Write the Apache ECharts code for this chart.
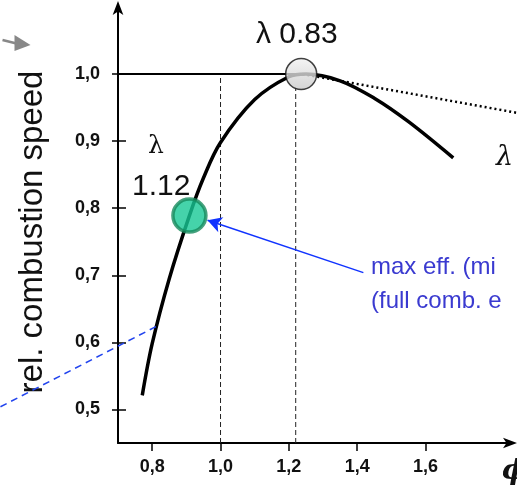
<!DOCTYPE html>
<html>
<head>
  <meta charset="utf-8"/>
  <script src="https://cdn.jsdelivr.net/npm/echarts@6/dist/echarts.min.js"></script>
  <style>html,body{margin:0;padding:0;background:#fff;}</style>
</head>
<body>
  <div id="chartmain" style="width:517px; height:487px;"></div>
  <script type="text/javascript">
    // tick values
    var xTicks = [0.8, 1.0, 1.2, 1.4, 1.6];
    var yTicks = [0.5, 0.6, 0.7, 0.8, 0.9, 1.0];
    // combustion speed curve (phi, rel. speed)
    var curvePhi = [0.771, 0.80, 0.85, 0.909, 0.95, 1.0, 1.1, 1.2, 1.25, 1.35, 1.45, 1.55, 1.681];
    var curveSpeed = [0.521, 0.598, 0.695, 0.789, 0.845, 0.898, 0.962, 0.996, 1.0, 0.99, 0.964, 0.929, 0.875];
    // guide lines
    var maxLine = [[0.7, 1.0], [1.23, 1.0]];
    var dottedLine = [[1.24, 1.0], [1.87, 0.942]];
    var dashA = [[1.0, 0.45], [1.0, 0.995]];
    var dashB = [[1.22, 0.45], [1.22, 0.98]];
    var blueDash = [[0.356, 0.504], [0.824, 0.627]];
    var blueArrow = [[1.418, 0.704], [0.962, 0.782]];
    // highlighted points
    var peakPoint = [[1.236, 1.0]];
    var effPoint = [[0.909, 0.789]];

    var curve = curvePhi.map(function (p, i) { return [p, curveSpeed[i]]; });
    var fmt = function (v) { return v.toFixed(1).replace('.', ','); };
    var tickFont = { fontFamily: 'Liberation Sans', fontSize: 18, fontWeight: 'bold', color: '#111' };

    // text annotations
    var annot = [
      { type: 'text', left: 256, top: 20, style: { text: 'λ 0.83', fontFamily: 'Liberation Sans', fontSize: 30, fill: '#111' } },
      { type: 'text', left: 148, top: 134, style: { text: 'λ', fontFamily: 'DejaVu Serif', fontSize: 25, fill: '#111' } },
      { type: 'text', left: 132, top: 172, style: { text: '1.12', fontFamily: 'Liberation Sans', fontSize: 30, fill: '#111' } },
      { type: 'text', left: 496, top: 144, style: { text: 'λ', fontFamily: 'DejaVu Serif', fontStyle: 'italic', fontSize: 27, fill: '#111' } },
      { type: 'text', left: 371, top: 255, style: { text: 'max eff. (mi', fontFamily: 'Liberation Sans', fontSize: 24, fill: '#3a3ad0' } },
      { type: 'text', left: 371, top: 289, style: { text: '(full comb. e', fontFamily: 'Liberation Sans', fontSize: 24, fill: '#3a3ad0' } },
      { type: 'text', left: 502, top: 458, style: { text: 'ϕ', fontFamily: 'DejaVu Serif', fontStyle: 'italic', fontWeight: 'bold', fontSize: 28, fill: '#111' } },
      {
        type: 'group', left: 0, top: 35,
        children: [
          { type: 'line', shape: { x1: 0, y1: 5, x2: 16, y2: 9 }, style: { stroke: '#888', lineWidth: 2.5 } },
          { type: 'polygon', shape: { points: [[12, 0], [28, 10], [12, 16]] }, style: { fill: '#888' } }
        ]
      }
    ];

    var option = {
      animation: false,
      grid: { left: 118, right: 6, top: 7, bottom: 44 },
      xAxis: [{
        type: 'value', min: 0.7, max: 1.85,
        splitLine: { show: false },
        axisLine: { lineStyle: { color: '#000', width: 2 }, symbol: ['none', 'arrow'], symbolSize: [8, 14], symbolOffset: [0, 6] },
        axisTick: { customValues: xTicks, length: 8, lineStyle: { color: '#000', width: 1.5 } },
        axisLabel: Object.assign({ customValues: xTicks, margin: 15, formatter: fmt }, tickFont)
      }],
      yAxis: [{
        type: 'value', min: 0.45, max: 1.1,
        splitLine: { show: false },
        name: 'rel. combustion speed', nameLocation: 'middle', nameGap: 69,
        nameTextStyle: { fontFamily: 'Liberation Sans', fontSize: 33, color: '#111', padding: [0, 14, 0, 0] },
        axisLine: { lineStyle: { color: '#000', width: 2 }, symbol: ['none', 'arrow'], symbolSize: [8, 14], symbolOffset: [0, 6] },
        axisTick: { customValues: yTicks, length: 6, lineStyle: { color: '#000', width: 1.5 } },
        axisLabel: Object.assign({ customValues: yTicks, margin: 18, formatter: fmt }, tickFont)
      }, {
        type: 'value', min: 0.45, max: 1.1, position: 'left',
        splitLine: { show: false }, axisLine: { show: false },
        axisTick: { inside: true, customValues: yTicks, length: 8, lineStyle: { color: '#000', width: 1.5 } },
        axisLabel: { show: false }
      }],
      series: [
        { type: 'line', data: maxLine, symbol: 'none', lineStyle: { color: '#000', width: 2 } },
        { type: 'line', data: dashA, symbol: 'none', lineStyle: { color: '#222', width: 1, type: [5, 3] } },
        { type: 'line', data: dashB, symbol: 'none', lineStyle: { color: '#222', width: 1, type: [5, 3] } },
        { type: 'line', data: curve, smooth: 0.35, symbol: 'none', lineStyle: { color: '#000', width: 3.5 } },
        {
          type: 'line', data: [], symbol: 'none',
          markLine: {
            silent: true, symbol: ['none', 'arrow'], symbolSize: [12, 14],
            label: { show: false },
            lineStyle: { color: '#1133ff', width: 1.5, type: 'solid' },
            data: [[{ coord: blueArrow[0] }, { coord: blueArrow[1] }]]
          }
        },
        {
          type: 'scatter', data: peakPoint, symbolSize: 31, z: 10,
          itemStyle: {
            color: new echarts.graphic.LinearGradient(0, 0, 0, 1, [{ offset: 0, color: '#f2f2f2' }, { offset: 1, color: '#c8c8c8' }]),
            borderColor: '#111', borderWidth: 1.5
          }
        },
        {
          type: 'scatter', data: effPoint, symbolSize: 33, z: 10,
          itemStyle: { color: '#16c895', borderColor: '#168a5c', borderWidth: 3.5 }
        }
      ],
      graphic: annot
    };

    var myChart = echarts.init(document.getElementById('chartmain'));
    myChart.setOption(option);

    // lines that run outside the plot area: map data through the chart's own scales
    function toPx(pts) {
      return pts.map(function (d) { return myChart.convertToPixel({ gridIndex: 0 }, d); });
    }
    var bd = toPx(blueDash);
    var dl = toPx(dottedLine);
    myChart.setOption({
      graphic: annot.concat([
        { type: 'polyline', z: 5, shape: { points: bd }, style: { stroke: '#2244ee', lineWidth: 1.5, lineDash: [7, 5], fill: null } },
        { type: 'polyline', z: 5, shape: { points: dl }, style: { stroke: '#000', lineWidth: 2.5, lineDash: [2, 3], fill: null } }
      ])
    });
  </script>
</body>
</html>
